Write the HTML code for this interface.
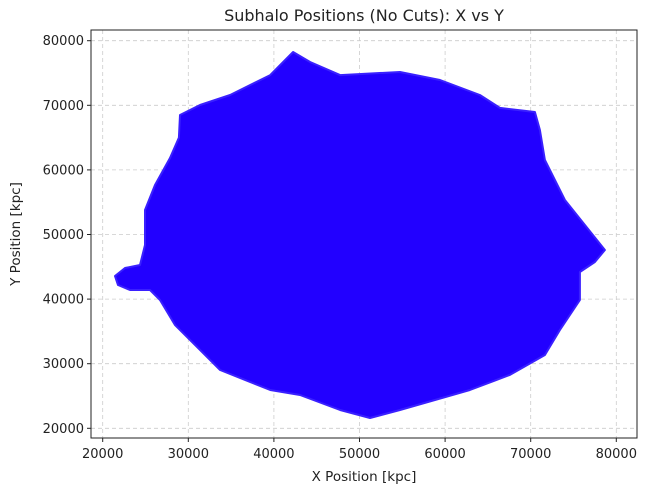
<!DOCTYPE html>
<html><head><meta charset="utf-8"><style>
body{margin:0;background:#fff;font-family:"Liberation Sans","DejaVu Sans",sans-serif}
svg text{font-family:"DejaVu Sans","Liberation Sans",sans-serif;fill:#222}
</style></head><body>
<svg id="chart" width="656" height="497" viewBox="0 0 656 497" xmlns="http://www.w3.org/2000/svg">
<g id="grid"></g>
<g id="marks"></g>
<rect x="91" y="30" width="546" height="408" fill="none" stroke="#222" stroke-width="1"/>
<g id="ticks"></g>
<text x="364" y="21" text-anchor="middle" font-size="16">Subhalo Positions (No Cuts): X vs Y</text>
<text x="364" y="481" text-anchor="middle" font-size="13.5">X Position [kpc]</text>
<text transform="translate(20,234) rotate(-90)" text-anchor="middle" font-size="13.5">Y Position [kpc]</text>
</svg>
<script>
const xTicks=[20000,30000,40000,50000,60000,70000,80000];
const yTicks=[20000,30000,40000,50000,60000,70000,80000];
const outlineX=[21440,22600,24360,24940,24940,26110,27860,28900,29030,31370,34880,39570,42240,44230,47730,54730,59400,64070,66400,70490,71070,71660,74000,76330,78670,77500,75750,75750,73410,71660,67570,62900,54730,51230,47730,43050,39570,33720,30800,28440,26690,25530,23190,21790];
const outlineY=[43580,44810,45280,48370,53790,57660,61840,65000,68500,70050,71600,74680,78250,76700,74680,75150,73910,71600,69590,68970,66180,61530,55340,51470,47600,45740,44190,39860,35220,31350,28260,25930,22840,21600,22840,25160,25930,29030,32900,36000,39860,41410,41410,42180];
const NS="http://www.w3.org/2000/svg";
const X=v=>102.7+(v-20000)*85.6/10000;
const Y=v=>428.3-(v-20000)*64.6/10000;
const grid=document.getElementById('grid'),ticks=document.getElementById('ticks'),marks=document.getElementById('marks');
function mk(t,a,p){const e=document.createElementNS(NS,t);for(const k in a)e.setAttribute(k,a[k]);p.appendChild(e);return e;}
xTicks.forEach(v=>{
 const g=mk('line',{x1:X(v),x2:X(v),y1:30,y2:438,stroke:'#ccc','stroke-dasharray':'4,3','stroke-width':0.8},grid);
 
 
 const t=mk('line',{x1:X(v),x2:X(v),y1:438,y2:442,stroke:'#222'},ticks);
 
 
 const l=mk('text',{x:X(v),y:458,'text-anchor':'middle','font-size':13},ticks);l.textContent=v;
 
 
});
yTicks.forEach(v=>{
 const g=mk('line',{x1:91,x2:637,y1:Y(v),y2:Y(v),stroke:'#ccc','stroke-dasharray':'4,3','stroke-width':0.8},grid);
 
 
 const t=mk('line',{x1:87,x2:91,y1:Y(v),y2:Y(v),stroke:'#222'},ticks);
 
 
 const l=mk('text',{x:84,y:Y(v)+4.5,'text-anchor':'end','font-size':13},ticks);l.textContent=v;
 
 
});
const pts=outlineX.map((x,i)=>X(x).toFixed(1)+','+Y(outlineY[i]).toFixed(1)).join(' ');
const poly=mk('polygon',{points:pts,fill:'#2200ff',stroke:'#3a20ff','stroke-width':2,'stroke-linejoin':'round'},marks);


</script>
</body></html>
